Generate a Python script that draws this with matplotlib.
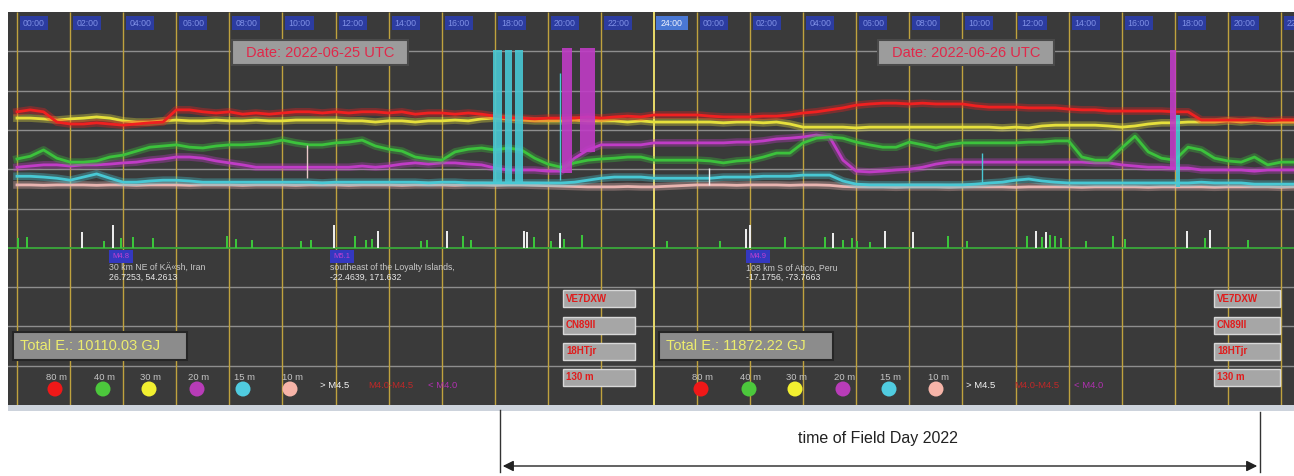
#!/usr/bin/env python3
"""
Two-day HF band noise monitor (Field Day 2022) - recreated screenshot
"""

import numpy as np
import matplotlib
matplotlib.use("Agg")
import matplotlib.pyplot as plt
from matplotlib.patches import Rectangle, Circle

plt.rcParams['font.family'] = ['Liberation Sans', 'DejaVu Sans']

# Configuration
W, H = 1294, 476
DAY2_START = 25.61          # where the second screenshot's 00:00 line sits (display hours)
PANEL_BG = '#3a3a3a'

# Half-hour sampling of each trace (level units, grid every 10)
HOURS_D1 = np.arange(0, 24.01, 0.5)
HOURS_D2 = np.arange(0, 22.51, 0.5)

RED_D1 = [74.6, 75.1, 74.6, 72.0, 71.5, 71.5, 71.8, 71.5, 71.2, 71.5, 71.8, 72.0, 75.1, 75.1, 74.6,
          74.3, 74.6, 74.0, 74.3, 74.0, 74.3, 74.6, 74.6, 74.3, 74.6, 74.3, 74.6, 74.6, 74.3, 74.6,
          74.0, 74.3, 74.3, 74.0, 74.3, 74.0, 73.5, 73.0, 73.0, 72.8, 73.0, 73.0, 73.0, 73.3, 73.0,
          73.3, 73.5, 73.3, 73.8]
YELLOW_D1 = [73.0, 73.0, 72.8, 72.5, 72.8, 73.0, 73.3, 73.0, 72.3, 72.0, 72.0, 72.3, 72.5, 72.3, 72.3,
             72.5, 72.3, 72.3, 72.5, 72.3, 72.3, 72.5, 72.5, 72.5, 72.5, 72.3, 72.3, 72.0, 72.3, 72.3,
             72.0, 72.3, 72.3, 72.5, 72.3, 72.8, 73.0, 72.8, 72.5, 72.3, 72.3, 72.3, 72.5, 72.3, 72.3,
             72.3, 72.0, 72.3, 72.0]
GREEN_D1 = [62.6, 63.3, 64.9, 62.8, 61.8, 61.8, 62.1, 63.1, 63.6, 64.6, 65.6, 65.9, 66.2, 65.6, 65.4,
            65.9, 66.2, 66.2, 66.4, 66.7, 67.4, 66.7, 66.2, 66.2, 66.7, 66.9, 67.4, 65.9, 65.1, 64.6,
            63.1, 62.6, 62.3, 64.4, 65.1, 65.4, 64.9, 65.4, 64.9, 62.8, 61.3, 60.5, 61.6, 62.3, 62.6,
            62.8, 63.1, 63.1, 62.3]
MAGENTA_D1 = [60.5, 60.8, 61.1, 61.1, 60.8, 61.1, 61.1, 61.3, 61.6, 61.8, 62.3, 62.6, 63.1, 63.1, 62.8,
              62.1, 61.6, 61.1, 60.5, 60.5, 60.5, 60.5, 60.5, 60.5, 60.5, 60.5, 60.8, 60.5, 60.8, 61.3,
              61.6, 61.3, 61.6, 61.6, 61.3, 61.1, 60.3, 59.8, 59.8, 59.8, 59.5, 59.5, 62.8, 64.9, 66.2,
              66.2, 66.2, 66.2, 66.7]
CYAN_D1 = [58.2, 58.2, 58.0, 57.7, 57.2, 58.0, 58.8, 57.7, 56.7, 56.7, 57.0, 57.2, 57.2, 57.0, 56.7,
           56.7, 56.7, 56.7, 56.7, 56.7, 56.7, 56.7, 56.7, 56.5, 56.7, 56.7, 56.7, 56.7, 56.7, 56.7,
           56.7, 56.5, 56.7, 56.7, 56.5, 56.5, 56.5, 56.5, 56.5, 56.5, 56.5, 56.5, 56.7, 57.2, 57.7,
           58.0, 58.0, 58.0, 57.7]
PINK_D1 = [56.0, 56.0, 55.9, 56.0, 56.0, 56.0, 55.9, 56.0, 56.0, 55.9, 56.0, 56.0, 56.0, 55.9, 56.0,
           56.0, 56.0, 55.9, 56.0, 56.0, 56.0, 55.9, 56.0, 56.0, 56.0, 55.9, 56.0, 56.0, 56.0, 55.9,
           56.0, 56.0, 56.0, 55.9, 56.0, 56.0, 55.9, 56.0, 56.0, 55.9, 55.8, 55.7, 55.6, 55.5, 55.5,
           55.5, 55.6, 55.5, 55.5]

RED_D2 = [73.8, 73.5, 73.3, 73.3, 73.3, 73.5, 73.5, 73.8, 74.3, 74.6, 75.1, 75.6, 76.3, 76.6, 76.8,
          76.8, 76.6, 76.8, 76.6, 76.6, 76.6, 76.1, 75.8, 75.8, 75.8, 75.6, 75.6, 75.6, 75.3, 75.1,
          75.1, 74.8, 74.8, 74.8, 74.8, 74.8, 74.6, 74.6, 72.5, 72.5, 72.5, 72.5, 72.5, 72.3, 72.5,
          72.5]
YELLOW_D2 = [72.0, 72.0, 71.8, 72.0, 72.0, 71.8, 72.0, 71.5, 70.7, 70.7, 70.7, 70.7, 70.5, 70.7, 70.7,
             70.7, 70.7, 70.7, 70.7, 70.7, 70.7, 70.7, 70.7, 70.5, 70.7, 70.5, 71.0, 71.2, 71.2, 71.2,
             71.2, 71.0, 70.7, 71.0, 71.5, 71.8, 71.8, 72.0, 72.0, 72.0, 72.3, 72.0, 72.3, 72.0, 72.0,
             72.0]
GREEN_D2 = [62.3, 62.1, 61.6, 62.1, 62.3, 63.1, 64.1, 64.1, 66.7, 67.9, 68.2, 67.9, 66.9, 66.2, 65.6,
            65.6, 66.9, 66.2, 65.4, 66.2, 66.7, 66.7, 66.7, 66.7, 66.7, 66.9, 66.9, 67.2, 67.2, 63.1,
            62.3, 62.3, 65.4, 68.4, 64.4, 62.8, 62.3, 65.6, 64.9, 62.8, 62.1, 61.8, 63.1, 61.1, 61.8,
            61.8]
MAGENTA_D2 = [66.7, 66.7, 66.7, 66.9, 66.9, 67.2, 67.7, 67.9, 68.2, 68.7, 68.2, 62.3, 59.5, 59.3, 59.5,
              59.8, 60.0, 60.5, 61.3, 61.8, 61.8, 61.8, 61.8, 61.8, 61.8, 61.8, 61.8, 61.8, 61.8, 61.8,
              61.6, 61.6, 61.1, 60.8, 60.5, 60.5, 60.3, 60.3, 59.8, 59.8, 59.8, 59.8, 59.5, 59.8, 59.8,
              59.8]
CYAN_D2 = [57.7, 57.7, 58.0, 58.0, 58.0, 58.2, 58.2, 58.2, 58.5, 58.5, 58.5, 57.0, 56.2, 56.0, 56.0,
           56.0, 56.0, 56.0, 56.0, 56.0, 56.0, 56.2, 56.5, 56.7, 57.2, 57.5, 57.0, 56.7, 56.5, 56.5,
           56.5, 56.5, 56.5, 56.5, 56.5, 56.5, 56.5, 56.5, 56.7, 56.5, 56.5, 56.5, 56.2, 56.2, 56.2,
           56.2]
PINK_D2 = [56.0, 56.0, 56.0, 55.9, 56.0, 56.0, 56.0, 55.9, 56.0, 56.0, 55.9, 55.6, 55.5, 55.5, 55.5,
           55.4, 55.5, 55.5, 55.5, 55.4, 55.5, 55.5, 55.5, 55.5, 55.4, 55.5, 55.5, 55.5, 55.5, 55.4,
           55.5, 55.5, 55.5, 55.5, 55.4, 55.5, 55.5, 55.5, 55.5, 55.4, 55.5, 55.5, 55.5, 55.5, 55.4,
           55.5]

# Transmit bursts (own station) : day, start h, end h, top, bottom, band
BURST_DAY = [1, 1, 1, 1, 1, 2, 2]
BURST_START = [17.93, 18.38, 18.76, 20.53, 21.21, 17.82, 18.04]
BURST_END = [18.27, 18.64, 19.06, 20.90, 21.77, 18.04, 18.19]
BURST_TOP = [90.3, 90.3, 90.3, 90.8, 90.8, 90.3, 73.8]
BURST_LOW = [56.5, 56.5, 56.5, 59.0, 64.5, 59.8, 55.5]
BURST_BAND = ['15 m', '15 m', '15 m', '20 m', '20 m', '20 m', '15 m']

# Single-sample glitches
GLITCH_DAY = [1, 1, 2, 2]
GLITCH_HOUR = [10.92, 20.45, 0.45, 10.73]
GLITCH_TOP = [66.2, 84.5, 60.3, 64.1]
GLITCH_LOW = [57.7, 57.2, 56.0, 56.5]
GLITCH_COLOR = ['#e8c8c8', '#48c8d4', '#f0f0f0', '#48c8d4']

# Earthquakes (baseline level 40)
QUAKE_BASE = 40
QUAKE_D1_GREEN = [0.04, 0.38, 3.28, 3.92, 4.37, 5.12, 7.91, 8.25, 8.85, 10.70, 11.07, 12.73, 13.14,
                  13.37, 15.22, 15.44, 16.80, 17.10, 19.47, 20.11, 20.60, 21.28]
QUAKE_D1_GREEN_TOP = [42.5, 42.8, 41.8, 42.6, 42.8, 42.5, 43.0, 42.3, 42.0, 41.8, 42.0, 43.0, 42.0,
                      42.3, 41.8, 42.0, 43.0, 42.0, 42.8, 41.8, 42.3, 43.3]
QUAKE_D1_WHITE = [2.45, 3.62, 11.94, 13.60, 16.20, 19.10, 19.21, 20.45]
QUAKE_D1_WHITE_TOP = [44.0, 45.7, 45.7, 44.2, 44.3, 44.2, 44.0, 43.8]
QUAKE_D2_GREEN = [-1.13, 0.87, 3.31, 4.82, 5.50, 5.84, 6.03, 6.52, 9.46, 10.17, 12.43, 13.00, 13.30,
                  13.48, 13.71, 14.65, 15.67, 16.12, 19.13, 20.75]
QUAKE_D2_GREEN_TOP = [41.8, 41.8, 42.8, 42.7, 42.0, 42.5, 41.8, 41.5, 43.0, 41.8, 43.0, 42.7, 43.2,
                      43.0, 42.5, 41.8, 43.0, 42.3, 42.5, 42.0]
QUAKE_D2_WHITE = [1.85, 2.00, 5.12, 7.08, 8.14, 12.77, 13.15, 18.46, 19.32]
QUAKE_D2_WHITE_TOP = [44.8, 45.7, 43.8, 44.2, 44.0, 44.2, 44.0, 44.2, 44.5]

QUAKE_INFO_DAY = [1, 1, 2]
QUAKE_INFO_HOUR = [3.47, 11.79, 1.85]
QUAKE_INFO_MAG = ['M4.8', 'M5.1', 'M4.9']
QUAKE_INFO_PLACE = ['30 km NE of KÄ«sh, Iran', 'southeast of the Loyalty Islands,', '108 km S of Atico, Peru']
QUAKE_INFO_COORD = ['26.7253, 54.2613', '-22.4639, 171.632', '-17.1756, -73.7663']

# Legend / panel texts
BANDS = ['80 m', '40 m', '30 m', '20 m', '15 m', '10 m']
BAND_COLORS = {'80 m': '#f02020', '40 m': '#3cc23c', '30 m': '#e6e03c',
               '20 m': '#c03cc6', '15 m': '#48c8d4', '10 m': '#e8b4b0'}
DOT_COLORS = ['#f01818', '#4cc83c', '#f2f030', '#b83cb8', '#50cce0', '#f6b4a8']
DATES = ['Date: 2022-06-25 UTC', 'Date: 2022-06-26 UTC']
TOTAL_E = ['Total E.: 10110.03 GJ', 'Total E.: 11872.22 GJ']
STATION = ['VE7DXW', 'CN89ll', '18HTjr', '130 m']
TIME_TICKS = list(range(0, 23, 2))
GRID_LEVELS = [10, 20, 30, 50, 60, 70, 80, 90]


def day_x(day, hours):
    """Map hour of day to the display time axis"""
    hours = np.asarray(hours, dtype=float)
    return hours if day == 1 else hours + DAY2_START


def draw_panel(ax):
    """Grid, time labels, traces and earthquake markers"""
    ax.set_facecolor(PANEL_BG)
    ax.set_xlim(-0.339, 48.1)
    ax.set_ylim(0, 100)
    ax.set_xticks([])
    ax.set_yticks([])
    for s in ax.spines.values():
        s.set_visible(False)

    ax.hlines(GRID_LEVELS, -1, 49, color='#8e8e8e', lw=1.0, zorder=1)
    ax.axhline(QUAKE_BASE, color='#3aa83a', lw=1.3, zorder=2)

    for day in (1, 2):
        ticks = day_x(day, TIME_TICKS)
        ax.vlines(ticks, 0, 100, color='#bfa23e', lw=1.0, zorder=1)
        for t, h in zip(ticks, TIME_TICKS):
            ax.add_patch(Rectangle((t + 0.11, 95.4), 1.06, 3.6, fc='#2c3ca0', ec='none', zorder=3))
            ax.text(t + 0.64, 97.2, f'{h:02d}:00', color='#7f90e6', fontsize=6.3,
                    ha='center', va='center', clip_on=True, zorder=4)
    # end of first day
    ax.axvline(24, color='#eadc6a', lw=1.4, zorder=1)
    ax.add_patch(Rectangle((24.06, 95.4), 1.2, 3.6, fc='#4a78d4', ec='none', zorder=3))
    ax.text(24.66, 97.2, '24:00', color='#f0f4ff', fontsize=6.3, ha='center', va='center', zorder=4)

    x_all = np.concatenate([day_x(1, HOURS_D1), day_x(2, HOURS_D2)])
    series = [(PINK_D1, PINK_D2, '10 m'), (CYAN_D1, CYAN_D2, '15 m'),
              (MAGENTA_D1, MAGENTA_D2, '20 m'), (GREEN_D1, GREEN_D2, '40 m'),
              (YELLOW_D1, YELLOW_D2, '30 m'), (RED_D1, RED_D2, '80 m')]
    for i, (d1, d2, band) in enumerate(series):
        y_all = np.concatenate([d1, d2])
        c = BAND_COLORS[band]
        ax.plot(x_all, y_all, color=c, lw=5.5, alpha=0.35, solid_joinstyle='round', zorder=5 + i)
        ax.plot(x_all, y_all, color=c, lw=2.0, zorder=5 + i)

    for day, s, e, top, low, band in zip(BURST_DAY, BURST_START, BURST_END, BURST_TOP, BURST_LOW, BURST_BAND):
        x0 = float(day_x(day, s))
        ax.bar(x0, top - low, bottom=low, width=e - s, align='edge',
               color=BAND_COLORS[band], alpha=0.9, lw=0, zorder=12)

    for day, h, top, low, c in zip(GLITCH_DAY, GLITCH_HOUR, GLITCH_TOP, GLITCH_LOW, GLITCH_COLOR):
        ax.vlines(day_x(day, h), low, top, color=c, lw=1.0, zorder=12)

    ax.vlines(day_x(1, QUAKE_D1_GREEN), QUAKE_BASE, QUAKE_D1_GREEN_TOP, color='#3cc83c', lw=1.4, zorder=3)
    ax.vlines(day_x(2, QUAKE_D2_GREEN), QUAKE_BASE, QUAKE_D2_GREEN_TOP, color='#3cc83c', lw=1.4, zorder=3)
    ax.vlines(day_x(1, QUAKE_D1_WHITE), QUAKE_BASE, QUAKE_D1_WHITE_TOP, color='#f0f0f0', lw=1.4, zorder=3)
    ax.vlines(day_x(2, QUAKE_D2_WHITE), QUAKE_BASE, QUAKE_D2_WHITE_TOP, color='#f0f0f0', lw=1.4, zorder=3)

    for day, h, mag, place, coord in zip(QUAKE_INFO_DAY, QUAKE_INFO_HOUR, QUAKE_INFO_MAG,
                                         QUAKE_INFO_PLACE, QUAKE_INFO_COORD):
        x0 = float(day_x(day, h))
        ax.add_patch(Rectangle((x0, 36.1), 0.9, 3.3, fc='#3438c0', ec='none', zorder=3))
        ax.text(x0 + 0.45, 37.75, mag, color='#c040d0', fontsize=5.5, ha='center', va='center', zorder=4)
        ax.text(x0, 34.9, place, color='#c8c8c8', fontsize=6.3, ha='left', va='center', zorder=4)
        ax.text(x0, 32.4, coord, color='#e8e8e8', fontsize=6.3, ha='left', va='center', zorder=4)


def draw_overlay(ov):
    """Boxes, legend and the Field Day annotation (pixel coordinates)"""
    ov.set_xlim(0, W)
    ov.set_ylim(H, 0)
    ov.axis('off')

    # scrollbar strip under the panel
    ov.add_patch(Rectangle((8, 405), W - 8, 6, fc='#cdd3dc', ec='none'))

    for i, off in enumerate((0, 646)):
        ov.add_patch(Rectangle((232 + off, 40), 176, 25, fc='#9c9c9c', ec='#4a4a4a', lw=1.5))
        ov.text(320 + off, 53, DATES[i], color='#e0284a', fontsize=10.5, ha='center', va='center')

        ov.add_patch(Rectangle((13 + off, 332), 174, 28, fc='#8c8c8c', ec='#262626', lw=1.5))
        ov.text(20 + off, 346.5, TOTAL_E[i], color='#ecec6e', fontsize=10.5, ha='left', va='center')

        for j, (xc, band) in enumerate(zip([55, 103, 149, 197, 243, 290], BANDS)):
            ov.add_patch(Circle((xc + off, 389), 7.5, fc=DOT_COLORS[j], ec='none'))
            ov.text(xc + 2 + off, 377, band, color='#c4c4c4', fontsize=6.8, ha='center', va='center')
        ov.text(320 + off, 385, '> M4.5', color='#f4f4f4', fontsize=6.8, ha='left', va='center')
        ov.text(368 + off, 385, 'M4.0-M4.5', color='#c02828', fontsize=6.8, ha='left', va='center')
        ov.text(428 + off, 385, '< M4.0', color='#b030b0', fontsize=6.8, ha='left', va='center')

    for bx, bw in ((563, 72), (1214, 66)):
        for j, (by, lab) in enumerate(zip([290, 317, 343, 369], STATION)):
            ov.add_patch(Rectangle((bx, by), bw, 17, fc='#a6a6a6', ec='#d8d8d8', lw=1.0))
            ov.text(bx + 3, by + 8.5, lab, color='#e01c1c', fontsize=7, fontweight='bold',
                    ha='left', va='center')

    # Field Day span
    ov.plot([500, 500], [410, 472], color='#333333', lw=1.0)
    ov.plot([1260, 1260], [412, 472], color='#333333', lw=1.0)
    ov.annotate('', xy=(500, 466), xytext=(1260, 466),
                arrowprops=dict(arrowstyle='<|-|>', color='#222222', lw=1.0, mutation_scale=16))
    ov.text(878, 438, 'time of Field Day 2022', color='#222222', fontsize=11.5, ha='center', va='center')


def main():
    fig = plt.figure(figsize=(W / 100, H / 100), dpi=100, facecolor='white')
    ax = fig.add_axes([8 / W, (H - 405) / H, (W - 8) / W, 393 / H], zorder=1)
    ov = fig.add_axes([0, 0, 1, 1], zorder=3)
    draw_panel(ax)
    draw_overlay(ov)
    fig.savefig('out.png', dpi=100, facecolor='white')


if __name__ == "__main__":
    main()
